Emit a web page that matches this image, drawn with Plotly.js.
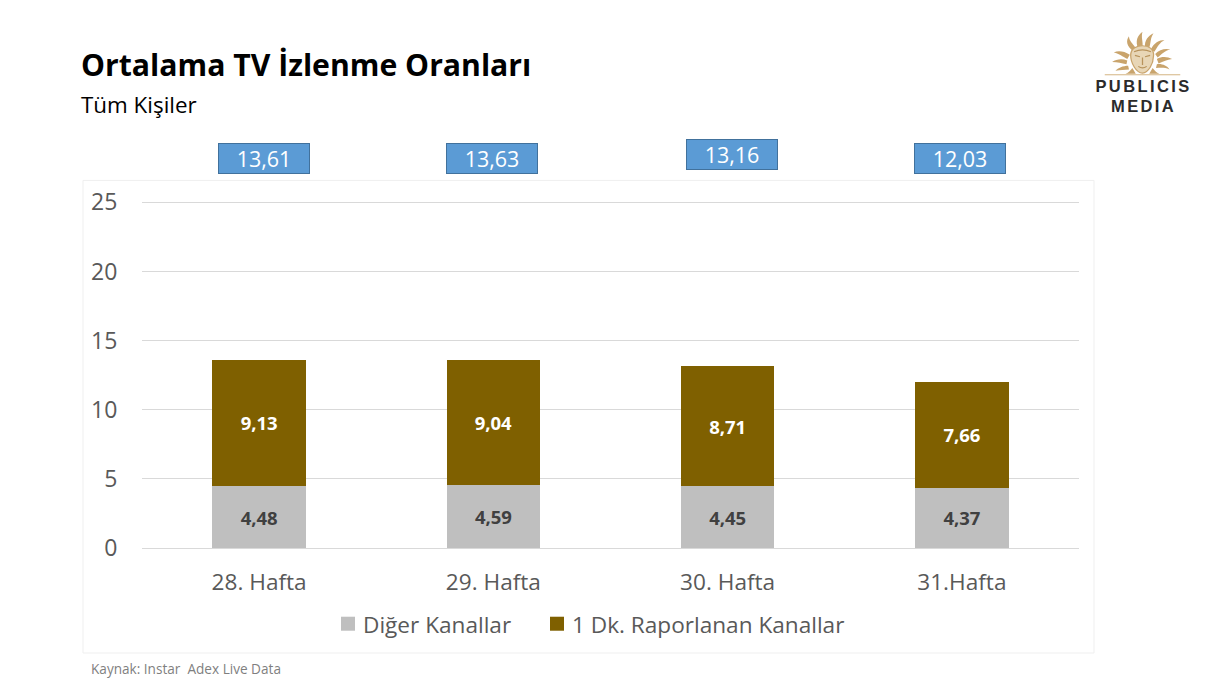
<!DOCTYPE html>
<html>
<head>
<meta charset="utf-8">
<script src="https://cdn.plot.ly/plotly-3.0.1.min.js"></script>
<style>html,body{margin:0;padding:0;background:#fff}#chart{width:1220px;height:688px}</style>
</head>
<body>
<div id="chart"></div>
<script>
const categories = ['28. Hafta', '29. Hafta', '30. Hafta', '31.Hafta'];
const digerKanallar = [4.48, 4.59, 4.45, 4.37];
const raporlananKanallar = [9.13, 9.04, 8.71, 7.66];
const toplam = [13.61, 13.63, 13.16, 12.03];

const FONT = '"Open Sans", "Noto Sans", sans-serif';
const W = 1220, H = 688, L = 142, R = 141, T = 201.1, B = 139.6;
const px = x => (x - L) / (W - L - R);
const py = y => 1 - (y - T) / (H - T - B);
const fmt = v => v.toFixed(2).replace('.', ',');

// Page positions of the floating total boxes, which sit off-centre in the reference
const boxCenterX = [263.5, 492, 731.5, 960];
const boxCenterY = [159, 158.5, 155, 158.5];
// Page positions of the legend swatches and labels
const legendSwatchX = [341, 550];
const legendTextX = [363, 572];

function logoSvg() {
  const rays = [
    'M70 60 C52 46 50 30 58 18 C58 30 66 36 74 50 Z',
    'M80 52 C72 32 78 16 90 6 C86 22 92 32 90 48 Z',
    'M96 48 C94 30 104 16 116 10 C108 24 110 36 106 50 Z',
    'M110 54 C116 36 130 28 142 28 C130 36 126 46 118 60 Z',
    'M120 66 C130 54 144 50 156 54 C142 58 136 66 126 76 Z',
    'M124 80 C136 72 150 74 160 80 C148 82 140 86 128 92 Z',
    'M124 94 C136 92 148 98 154 108 C142 102 134 104 122 104 Z',
    'M60 68 C46 58 32 56 22 62 C36 66 42 72 54 80 Z',
    'M54 84 C42 78 28 80 18 88 C32 88 40 92 52 94 Z',
    'M56 98 C44 98 32 104 26 112 C38 108 48 110 58 108 Z',
    'M66 104 C60 112 58 116 50 120 L74 120 Z',
    'M114 104 C120 112 122 116 130 120 L106 120 Z'
  ];
  const svg = `<svg xmlns="http://www.w3.org/2000/svg" width="180" height="130" viewBox="0 0 180 130" preserveAspectRatio="none">` +
    rays.map(d => `<path d="${d}" fill="#C9A46C"/>`).join('') +
    `<path d="M62 70 C62 50 78 44 90 44 C104 44 118 52 116 72 C116 92 104 118 90 118 C76 118 62 92 62 70 Z" fill="#E8D6B6" stroke="#C9A46C" stroke-width="3"/>` +
    `<path d="M72 70 L84 74 M108 70 L96 74 M90 76 L90 96 M80 100 Q90 108 100 100 M70 60 Q90 50 110 60" stroke="#B8935C" stroke-width="3" fill="none"/>` +
    `<rect x="0" y="121" width="180" height="3" fill="#D8BC8F"/></svg>`;
  return 'data:image/svg+xml;base64,' + btoa(svg);
}

const traces = [
  { type: 'bar', name: 'Diğer Kanallar', x: categories, y: digerKanallar,
    marker: { color: '#BFBFBF' }, text: digerKanallar.map(fmt), textposition: 'inside',
    insidetextanchor: 'middle', textangle: 0, constraintext: 'none',
    textfont: { family: FONT, size: 18.5, color: '#404040', weight: 700 }, hoverinfo: 'skip' },
  { type: 'bar', name: '1 Dk. Raporlanan Kanallar', x: categories, y: raporlananKanallar,
    marker: { color: '#7F6000' }, text: raporlananKanallar.map(fmt), textposition: 'inside',
    insidetextanchor: 'middle', textangle: 0, constraintext: 'none',
    textfont: { family: FONT, size: 18.5, color: '#FFFFFF', weight: 700 }, hoverinfo: 'skip' }
];

const boxes = toplam.map((v, i) => ({
  xref: 'paper', yref: 'paper', x: px(boxCenterX[i]), y: py(boxCenterY[i]), xanchor: 'center', yanchor: 'middle',
  text: fmt(v), showarrow: false, width: 90, height: 29,
  bgcolor: '#5B9BD5', bordercolor: '#41719C', borderwidth: 1, borderpad: 0,
  font: { family: FONT, size: 21.5, color: '#FFFFFF' }
}));

const texts = [
  { x: 80, y: 64.5, text: '<b>Ortalama TV İzlenme Oranları</b>', size: 30.2, color: '#000000', anchor: 'left' },
  { x: 80, y: 104.5, text: 'Tüm Kişiler', size: 22.4, color: '#000000', anchor: 'left' },
  { x: 89.5, y: 669.5, text: 'Kaynak: Instar  Adex Live Data', size: 13.6, color: '#7F7F7F', anchor: 'left' },
  { x: 1143.5, y: 86.5, text: '<b>PUBLICIS</b>', size: 16.5, color: '#2B2B2B', anchor: 'center', logo: true },
  { x: 1143.5, y: 106, text: '<b>MEDIA</b>', size: 16.5, color: '#2B2B2B', anchor: 'center', logo: true }
].map(t => ({
  xref: 'paper', yref: 'paper', x: px(t.x), y: py(t.y), xanchor: t.anchor, yanchor: 'middle',
  text: t.text, showarrow: false, borderpad: 0,
  font: { family: t.logo ? '"Liberation Sans", Arial, sans-serif' : FONT, size: t.size, color: t.color }
}));

const layout = {
  width: W, height: H, autosize: false,
  margin: { l: L, r: R, t: T, b: B, pad: 0 },
  paper_bgcolor: '#FFFFFF', plot_bgcolor: '#FFFFFF',
  barmode: 'stack', bargap: 0.6, showlegend: true,
  font: { family: FONT },
  xaxis: { type: 'category', categoryorder: 'array', categoryarray: categories,
    ticks: 'outside', ticklen: 14, tickcolor: 'rgba(0,0,0,0)', showgrid: false,
    showline: true, linecolor: '#D9D9D9', linewidth: 1,
    tickfont: { family: FONT, size: 22.6, color: '#595959' } },
  yaxis: { range: [0, 25.1], tickmode: 'linear', tick0: 0, dtick: 5,
    ticks: 'outside', ticklen: 19, tickcolor: 'rgba(0,0,0,0)',
    gridcolor: '#D9D9D9', gridwidth: 1, zeroline: false, showline: false,
    tickfont: { family: FONT, size: 23, color: '#595959' } },
  legend: { orientation: 'h', x: px(592), xanchor: 'center', y: py(624.5), yanchor: 'middle',
    font: { family: FONT, size: 22.6, color: '#595959' }, bgcolor: 'rgba(0,0,0,0)',
    itemsizing: 'constant', traceorder: 'normal', itemwidth: 30, itemclick: false, itemdoubleclick: false },
  shapes: [{ type: 'rect', xref: 'paper', yref: 'paper', layer: 'below',
    x0: px(83), x1: px(1094), y0: py(653.5), y1: py(180.5),
    line: { color: '#EFEFEF', width: 1 }, fillcolor: 'rgba(0,0,0,0)' }],
  images: [{ source: logoSvg(), xref: 'paper', yref: 'paper', x: px(1142.5), y: py(53.5), sizex: 76 / (W - L - R), sizey: 48 / (H - T - B),
    xanchor: 'center', yanchor: 'middle', sizing: 'stretch', layer: 'above' }],
  annotations: boxes.concat(texts)
};

Plotly.newPlot('chart', traces, layout, { displayModeBar: false, responsive: false, staticPlot: true }).then(() => {
  document.querySelectorAll('.annotation-text').forEach(el => {
    if (el.textContent === 'PUBLICIS') el.style.letterSpacing = '2.4px';
    if (el.textContent === 'MEDIA') el.style.letterSpacing = '2.4px';
  });
  // Move legend entries to the reference's spacing and enlarge the swatches
  document.querySelectorAll('.legend .scrollbox').forEach(el => el.removeAttribute('clip-path'));
  document.querySelectorAll('.legend .traces').forEach((g, i) => {
    const path = g.querySelector('.legendpoints path');
    const text = g.querySelector('.legendtext');
    if (path) {
      path.setAttribute('d', 'M7,7H-7V-7H7Z');
      const dx = legendSwatchX[i] - path.getBoundingClientRect().left;
      path.parentNode.style.transform = `translate(${dx}px,0px)`;
    }
    if (text) {
      const dx = legendTextX[i] - text.getBoundingClientRect().left;
      text.style.transform = `translate(${dx}px,0px)`;
    }
  });
});
</script>
</body>
</html>
